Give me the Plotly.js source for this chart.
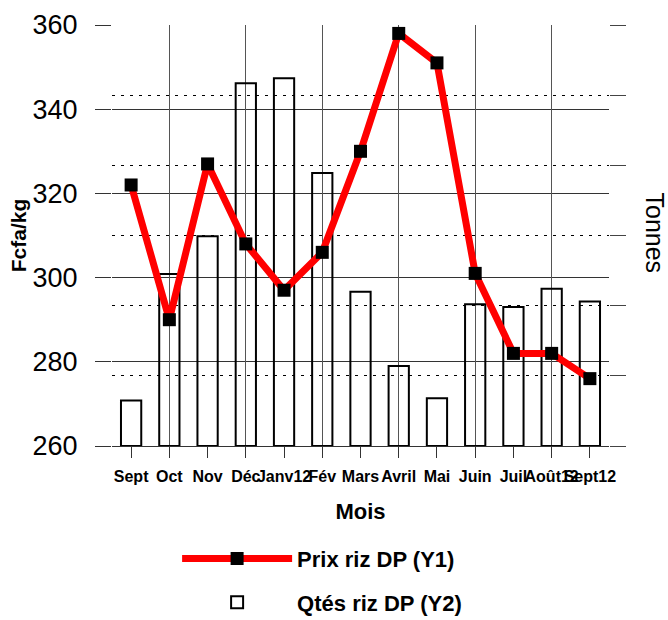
<!DOCTYPE html>
<html>
<head>
<meta charset="utf-8">
<script src="https://cdn.plot.ly/plotly-3.0.1.min.js"></script>
<style>html,body{margin:0;padding:0;background:#fff;}#chart{width:668px;height:620px;}</style>
</head>
<body>
<div id="chart"></div>
<script>
const months = ["Sept","Oct","Nov","Déc","Janv12","Fév","Mars","Avril","Mai","Juin","Juil","Août12","Sept12"];
const prix = [322, 290, 327, 308, 297, 306, 330, 358, 351, 301, 282, 282, 276];
const qtes = [65, 245, 299, 517, 524, 389, 220, 114, 68, 202, 198, 224, 206];
const gridPos = [-0.5, 1, 3, 5, 7, 9, 11, 12.5];
const priceTicks = [260, 280, 300, 320, 340, 360];

const FONT = "Liberation Sans, Arial, sans-serif";

const traces = [
  {
    type: "bar", x: months, y: qtes, xaxis: "x", yaxis: "y",
    name: "Qtés riz DP (Y2)", width: 0.53,
    marker: {color: "rgba(255,255,255,0)", line: {color: "#000", width: 2}},
    legendrank: 2, legendgroup: "b", hoverinfo: "skip"
  },
  {
    type: "scatter", mode: "lines+markers", x: months, y: prix, xaxis: "x", yaxis: "y2",
    name: "Prix riz DP (Y1)",
    line: {color: "#ff0000", width: 7},
    marker: {symbol: "square", size: 13, color: "#000"},
    legendrank: 1, legendgroup: "a", hoverinfo: "skip"
  },
  {
    type: "scatter", mode: "markers", x: [0], y: [null], xaxis: "x2", yaxis: "y",
    showlegend: false, hoverinfo: "skip"
  }
];

const layout = {
  width: 668, height: 620,
  margin: {l: 112, r: 59, t: 25, b: 174, autoexpand: false},
  paper_bgcolor: "#fff", plot_bgcolor: "#fff",
  font: {family: FONT, color: "#000"},
  showlegend: true,
  xaxis: {
    type: "category", categoryorder: "array", categoryarray: months,
    range: [-0.5, 12.5], showgrid: false, zeroline: false,
    showline: true, linecolor: "#333", linewidth: 1,
    ticks: "outside", ticklen: 11, tickcolor: "#333", tickwidth: 1,
    ticklabelstandoff: 5,
    tickfont: {size: 16, weight: 700, family: FONT},
    tickangle: 0,
    title: {text: "Mois", font: {size: 22, weight: 700, family: FONT}, standoff: 19},
    automargin: false, fixedrange: true
  },
  xaxis2: {
    overlaying: "x", anchor: "y", side: "bottom", range: [-0.5, 12.5],
    tickmode: "array", tickvals: gridPos, showticklabels: false, ticks: "",
    showgrid: true, gridcolor: "#555", gridwidth: 1, zeroline: false, showline: false,
    automargin: false, fixedrange: true
  },
  yaxis: {
    side: "right", range: [0, 600], dtick: 100, tick0: 0,
    showticklabels: false, ticks: "outside", ticklen: 16, tickcolor: "#444", tickwidth: 1,
    showgrid: true, gridcolor: "#000", gridwidth: 1, griddash: "3px,6px",
    zeroline: false, showline: false, automargin: false, fixedrange: true
  },
  yaxis2: {
    overlaying: "y", side: "left", anchor: "x",
    range: [260, 360], tickmode: "array", tickvals: priceTicks,
    ticks: "outside", ticklen: 16, tickcolor: "#333", tickwidth: 1,
    ticklabelstandoff: 12,
    tickfont: {size: 27, family: FONT},
    showgrid: true, gridcolor: "#333", gridwidth: 1,
    zeroline: false, showline: false,
    title: {text: "Fcfa/kg", font: {size: 21, weight: 700, family: FONT}, standoff: 0},
    automargin: false, fixedrange: true
  },
  legend: {
    x: 0.131, xanchor: "left", y: -0.218, yanchor: "top",
    orientation: "v", traceorder: "grouped", tracegroupgap: 12,
    itemwidth: 110, bgcolor: "rgba(0,0,0,0)",
    font: {size: 22, weight: 700, family: FONT}
  },
  annotations: [
    {text: "Tonnes", xref: "paper", yref: "paper", x: 1.0, xshift: 46, y: 0.5, yshift: 3,
     xanchor: "center", yanchor: "middle", showarrow: false, textangle: 90,
     font: {size: 25, family: FONT, color: "#000"}}
  ]
};

Plotly.newPlot("chart", traces, layout, {staticPlot: true, displayModeBar: false});
</script>
</body>
</html>
